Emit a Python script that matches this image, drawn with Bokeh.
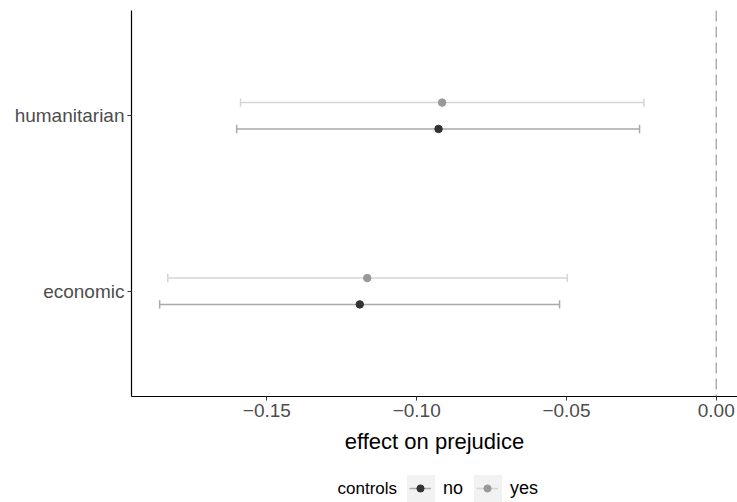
from bokeh.plotting import figure
from bokeh.layouts import column
from bokeh.models import ColumnDataSource, Legend, LegendItem, Span, FixedTicker, Label
from bokeh.embed import file_html
from bokeh.resources import INLINE

# ---------------- data ----------------
categories = ["economic", "humanitarian"]
control_levels = ["no", "yes"]
est_no = [-0.1190, -0.0927]
low_no = [-0.1858, -0.1601]
high_no = [-0.0523, -0.0256]
est_yes = [-0.1165, -0.0915]
low_yes = [-0.1831, -0.1588]
high_yes = [-0.0497, -0.0241]
x_ticks = [-0.15, -0.10, -0.05, 0.00]
x_tick_labels = ["\u22120.15", "\u22120.10", "\u22120.05", "0.00"]
x_label = "effect on prejudice"
legend_title = "controls"

# ---------------- style ----------------
FONT = "Liberation Sans"
point_colors = {"no": "#333333", "yes": "#999999"}
line_colors = {"no": "#a9a9a9", "yes": "#d5d5d5"}
dodge = {"no": -0.075, "yes": 0.075}
cap = 0.024
X_RANGE = (-0.1952, 0.0071)
Y_RANGE = (0.4, 2.6)
LEFT = 131
key_box_x = {"no": 402.5, "yes": 469.5}   # screen x of legend key boxes

series = {
    "no": (est_no, low_no, high_no),
    "yes": (est_yes, low_yes, high_yes),
}


def make_source(lvl):
    est, lo, hi = series[lvl]
    ys = [i + 1 + dodge[lvl] for i in range(len(categories))]
    return ColumnDataSource(dict(
        y=ys, est=est, lo=lo, hi=hi,
        cb=[y - cap for y in ys], ct=[y + cap for y in ys]))


# ---------------- main plot ----------------
p = figure(width=737, height=462, x_range=X_RANGE, y_range=Y_RANGE,
           output_backend="svg", toolbar_location=None,
           min_border_left=LEFT, min_border_right=0, min_border_top=10, min_border_bottom=66)
p.outline_line_color = None
p.xgrid.visible = False
p.ygrid.visible = False

p.add_layout(Span(location=0, dimension="height", line_color="#9a9a9a",
                  line_dash="11 5", line_width=1.2))

for lvl in control_levels:
    src = make_source(lvl)
    p.segment(x0="lo", y0="y", x1="hi", y1="y", source=src,
              line_color=line_colors[lvl], line_width=1.5)
    p.segment(x0="lo", y0="cb", x1="lo", y1="ct", source=src,
              line_color=line_colors[lvl], line_width=1.5)
    p.segment(x0="hi", y0="cb", x1="hi", y1="ct", source=src,
              line_color=line_colors[lvl], line_width=1.5)
    p.scatter(x="est", y="y", source=src, size=7.5,
              fill_color=point_colors[lvl], line_color=point_colors[lvl])

p.yaxis.ticker = FixedTicker(ticks=[i + 1 for i in range(len(categories))])
p.yaxis.major_label_overrides = {i + 1: c for i, c in enumerate(categories)}
p.xaxis.ticker = FixedTicker(ticks=x_ticks)
p.xaxis.major_label_overrides = {t: l for t, l in zip(x_ticks, x_tick_labels)}
p.xaxis.axis_label = x_label
for ax in (p.xaxis, p.yaxis):
    ax.axis_line_color = "black"
    ax.axis_line_width = 1.2
    ax.major_tick_line_color = "#333333"
    ax.major_tick_in = 0
    ax.major_tick_out = 4
    ax.minor_tick_line_color = None
    ax.major_label_text_font = FONT
    ax.major_label_text_font_size = "19px"
    ax.major_label_text_color = "#4d4d4d"
    ax.major_label_standoff = 3
p.xaxis.axis_label_text_font = FONT
p.xaxis.axis_label_text_font_size = "22px"
p.xaxis.axis_label_text_font_style = "normal"
p.xaxis.axis_label_text_color = "black"
p.xaxis.axis_label_standoff = 9

# ---------------- legend strip ----------------
lg_fig = figure(width=737, height=40, x_range=X_RANGE, y_range=Y_RANGE,
                output_backend="svg", toolbar_location=None,
                x_axis_type=None, y_axis_type=None,
                min_border_left=LEFT, min_border_right=0,
                min_border_top=0, min_border_bottom=0)
lg_fig.outline_line_color = None
lg_fig.xgrid.visible = False
lg_fig.ygrid.visible = False

bg_r, seg_r, pt_r = {}, {}, {}
for lvl in control_levels:
    src = make_source(lvl)
    bg_r[lvl] = lg_fig.quad(left="lo", right="hi", bottom="cb", top="ct", source=src,
                            fill_color="#f2f2f2", line_color=None, visible=False)
    seg_r[lvl] = lg_fig.segment(x0="lo", y0="y", x1="hi", y1="y", source=src,
                                line_color=line_colors[lvl], line_width=1.5, visible=False)
    pt_r[lvl] = lg_fig.scatter(x="est", y="y", source=src, size=7.5, visible=False,
                               fill_color=point_colors[lvl], line_color=point_colors[lvl])

lg_fig.add_layout(Label(x=337 - LEFT, y=14, x_units="screen", y_units="screen",
                        text=legend_title, text_font=FONT, text_font_size="17px",
                        text_color="black", text_baseline="middle", text_align="left"))

common = dict(orientation="horizontal", padding=0, margin=0, label_height=35,
              border_line_color=None, background_fill_alpha=0,
              label_text_font=FONT, label_text_color="black")

# grey key backgrounds (one tiny legend per key)
for lvl in control_levels:
    lg_fig.add_layout(Legend(items=[LegendItem(label=" ", renderers=[bg_r[lvl]])],
                             glyph_width=35, glyph_height=35, label_standoff=0, spacing=0,
                             label_text_font_size="1px", label_text_alpha=0.0,
                             location=(key_box_x[lvl] - LEFT, -3.5), **common), "center")

# visible legend: line + point + label
lg_fig.add_layout(Legend(items=[LegendItem(label=l, renderers=[seg_r[l], pt_r[l]]) for l in control_levels],
                         glyph_width=22, glyph_height=18, label_standoff=12, spacing=13,
                         label_text_font_size="18px",
                         location=(key_box_x["no"] + 6.5 - LEFT, -3.5), **common), "center")

layout = column(p, lg_fig, spacing=0)
open("out.html", "w").write(file_html(layout, INLINE))
